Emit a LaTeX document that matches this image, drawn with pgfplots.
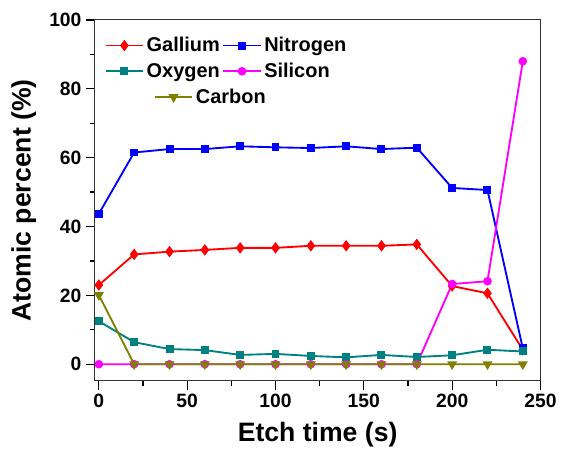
\documentclass[border=0pt]{standalone}
\usepackage{fontspec}
\setmainfont{Liberation Sans}
\usepackage{pgfplots}
\pgfplotsset{compat=1.18}
\definecolor{cga}{RGB}{255,0,0}
\definecolor{cn}{RGB}{0,0,255}
\definecolor{co}{RGB}{0,128,128}
\definecolor{csi}{RGB}{255,0,255}
\definecolor{cc}{RGB}{128,128,0}
\begin{document}
\begin{tikzpicture}
\begin{axis}[
 scale only axis, width=335pt, height=271.3pt,
 xmin=-2.3, xmax=250, ymin=-4.84, ymax=100,
 xtick={0,50,...,250}, ytick={0,20,...,100},
 minor x tick num=1, minor y tick num=1,
 tick align=outside, xtick pos=bottom, ytick pos=left,
 major tick length=6.5pt, minor tick length=3.5pt,
 tick style={black, line width=0.9pt},
 axis line style={line width=0.8pt, black!80},
 ticklabel style={font=\fontsize{14.5}{17}\selectfont\bfseries},
 /pgf/number format/assume math mode=true,
 xlabel={Etch time (s)}, ylabel={Atomic percent (\%)},
 label style={font=\fontsize{20}{24}\selectfont\bfseries},
 every axis x label/.append style={yshift=-4pt},
 every axis y label/.append style={yshift=3pt},
 legend style={draw=none, fill=none, at={(0.022,0.96)}, anchor=north west, inner sep=0pt,
   font=\fontsize{15}{18}\selectfont\bfseries, legend columns=2,
   /tikz/every odd column/.style={column sep=0pt}, row sep=3pt},
 legend cell align=left,
 legend image code/.code={\draw[mark repeat=2,mark phase=2] plot coordinates {(0pt,0pt) (14pt,0pt) (28pt,0pt)};},
 every axis plot/.append style={line width=1.4pt},
]
\addplot[cga, mark=diamond*, mark size=3.2pt] coordinates {(0,23.0) (20,31.9) (40,32.7) (60,33.2) (80,33.8) (100,33.8) (120,34.4) (140,34.4) (160,34.4) (180,34.8) (200,22.7) (220,20.6) (240,4.2)};
\addlegendentry{Gallium}
\addplot[cn, mark=square*, mark size=2.3pt] coordinates {(0,43.7) (20,61.5) (40,62.5) (60,62.5) (80,63.3) (100,63.0) (120,62.8) (140,63.3) (160,62.5) (180,62.9) (200,51.2) (220,50.6) (240,4.6)};
\addlegendentry{Nitrogen}
\addplot[co, mark=square*, mark size=2.3pt] coordinates {(0,12.5) (20,6.4) (40,4.4) (60,4.1) (80,2.7) (100,3.0) (120,2.4) (140,2.0) (160,2.7) (180,2.1) (200,2.6) (220,4.2) (240,3.7)};
\addlegendentry{Oxygen}
\addplot[csi, mark=*, mark size=2.5pt] coordinates {(0,0) (20,0) (40,0) (60,0) (80,0) (100,0) (120,0) (140,0) (160,0) (180,0) (200,23.3) (220,24.1) (240,88.0)};
\addlegendentry{Silicon}
\addplot[cc, mark=triangle*, mark size=3pt, mark options={rotate=180},
  legend image code/.code={\path[draw=none,fill=none] (0pt,-1pt) rectangle (28pt,1pt);\draw[overlay, xshift=37pt, mark repeat=2,mark phase=2] plot coordinates {(0pt,0pt) (14pt,0pt) (28pt,0pt)};}]
  coordinates {(0,20.1) (20,0) (40,0) (60,0) (80,0) (100,0) (120,0) (140,0) (160,0) (180,0) (200,0) (220,0) (240,0)};
\addlegendentry{\makebox[0pt][l]{\hspace{37pt}Carbon}}
\end{axis}
\path ([xshift=-71.25pt,yshift=-52pt]current axis.south west) rectangle ([xshift=14.5pt,yshift=15pt]current axis.north east);
\end{tikzpicture}
\end{document}
